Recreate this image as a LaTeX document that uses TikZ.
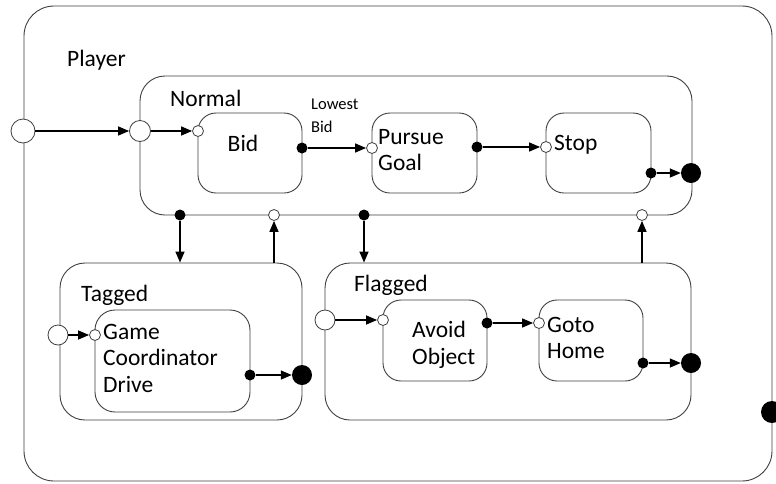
\documentclass[tikz,border=0pt]{standalone}
\usepackage{fontspec}
\setmainfont{Carlito}
\usetikzlibrary{arrows.meta}
\begin{document}
\begin{tikzpicture}[x=1pt,y=-1pt,
  box/.style={draw=black!75, line width=0.9pt, rounded corners=#1, inner sep=0pt},
  box/.default=20pt,
  opn/.style={circle, draw=black!75, fill=white, line width=0.8pt, inner sep=0pt, minimum size=#1},
  opn/.default=11pt,
  fil/.style={circle, fill=black, inner sep=0pt, minimum size=#1},
  fil/.default=11pt,
  arr/.style={-{Triangle[length=11pt,width=9pt]}, line width=1.4pt, black},
  lbl/.style={font=\fontsize{23.5}{26.5}\selectfont, inner sep=0pt, align=left, anchor=west},
  small/.style={font=\fontsize{16.5}{23}\selectfont, inner sep=0pt, align=left, anchor=west}
]
\useasboundingbox (0,0) rectangle (776,483);
\fill[white] (0,0) rectangle (776,483);

% boxes
\node[box=30pt, minimum width=748pt, minimum height=475pt] (player) at (398,243.5) {};
\node[box=25pt, minimum width=552pt, minimum height=139pt] (normal) at (416,145.5) {};
\node[box=18pt, minimum width=104pt, minimum height=80pt] (bid) at (250,153) {};
\node[box=18pt, minimum width=105pt, minimum height=80pt] (pursue) at (424.5,153) {};
\node[box=18pt, minimum width=105pt, minimum height=80pt] (stop) at (598.5,153) {};
\node[box=25pt, minimum width=242pt, minimum height=157pt] (tagged) at (181,341.5) {};
\node[box=20pt, minimum width=155pt, minimum height=102pt] (gcd) at (172.5,361) {};
\node[box=25pt, minimum width=366pt, minimum height=157pt] (flagged) at (508,341.5) {};
\node[box=18pt, minimum width=104pt, minimum height=81pt] (avoid) at (435,340.5) {};
\node[box=18pt, minimum width=104pt, minimum height=81pt] (goto) at (591,340.5) {};

% texts
\node[lbl] (tplayer) at (67,60) {Player};
\node[lbl] (tnormal) at (170,98) {Normal};
\node[lbl] (ttagged) at (81,295) {Tagged};
\node[lbl] (tflagged) at (354,285) {Flagged};
\node[lbl, anchor=center] (tbid) at (243,143) {Bid};
\node[lbl] (tpursue) at (378,150) {Pursue\\Goal};
\node[lbl] (tstop) at (554,145) {Stop};
\node[lbl] (tgcd) at (103,358) {Game\\Coordinator\\Drive};
\node[lbl] (tavoid) at (412,345) {Avoid\\Object};
\node[lbl] (tgoto) at (547,338) {Goto\\Home};
\node[small] (tlowest) at (311,116) {Lowest\\Bid};

% pseudo-states
\node[opn=24pt] (pin) at (23,131) {};
\node[opn=21pt] (nin) at (140,131) {};
\node[opn] (bidin) at (198,131) {};
\node[fil] (bidout) at (302,148) {};
\node[opn] (pgin) at (372,148) {};
\node[fil] (pgout) at (477,147) {};
\node[opn] (stopin) at (546,147) {};
\node[fil] (stopout) at (651,173) {};
\node[fil=20pt] (nfin) at (691,173) {};
\node[fil] (nd1) at (180,215) {};
\node[opn] (no1) at (274,215) {};
\node[fil] (nd2) at (364,215) {};
\node[opn] (no2) at (642,215) {};
\node[opn=20pt] (tin) at (58,335) {};
\node[opn] (gcdin) at (95,335) {};
\node[fil] (gcdout) at (250,375) {};
\node[fil=20pt] (tfin) at (302,375) {};
\node[opn=20pt] (fin) at (325,320) {};
\node[opn] (avin) at (383,320) {};
\node[fil] (avout) at (487,323) {};
\node[opn] (gtin) at (539,323) {};
\node[fil] (gtout) at (643,363) {};
\node[fil=20pt] (ffin) at (691,363) {};
\node[fil=22pt] (pfin) at (772,412) {};

% connectors
\draw[arr] (pin) -- (nin);
\draw[arr] (nin) -- (bidin);
\draw[arr] (bidout) -- (pgin);
\draw[arr] (pgout) -- (stopin);
\draw[arr] (stopout) -- (nfin);
\draw[arr] (nd1) -- (nd1 |- tagged.north);
\draw[arr] (no1 |- tagged.north) -- (no1);
\draw[arr] (nd2) -- (nd2 |- flagged.north);
\draw[arr] (no2 |- flagged.north) -- (no2);
\draw[arr] (tin) -- (gcdin);
\draw[arr] (gcdout) -- (tfin);
\draw[arr] (fin) -- (avin);
\draw[arr] (avout) -- (gtin);
\draw[arr] (gtout) -- (ffin);
\end{tikzpicture}
\end{document}
